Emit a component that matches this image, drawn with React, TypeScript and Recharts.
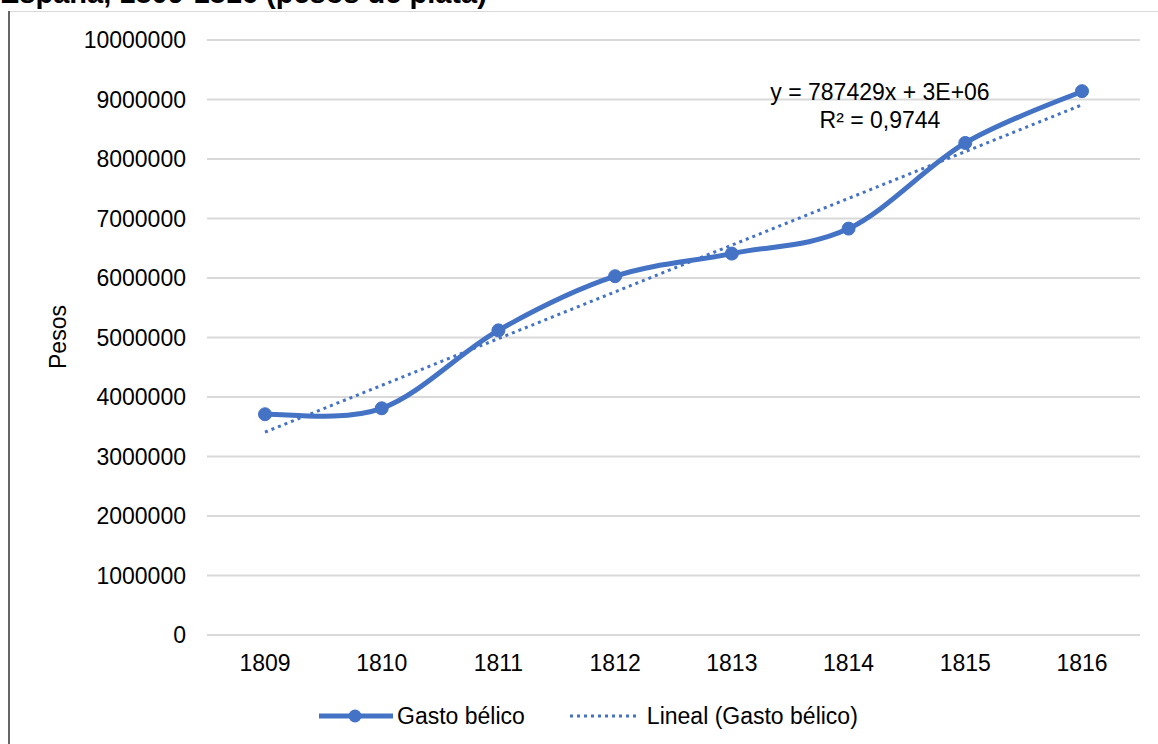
import { CartesianGrid, Line, LineChart, XAxis, YAxis } from "recharts";

const years = ["1809", "1810", "1811", "1812", "1813", "1814", "1815", "1816"];
const gastoBelico = [3710000, 3810000, 5120000, 6030000, 6410000, 6830000, 8270000, 9140000];
// trendline end points; the middle is left open and joined straight
const lineal = [3410000, null, null, null, null, null, null, 8910000];
const yTicks = [0, 1000000, 2000000, 3000000, 4000000, 5000000, 6000000, 7000000, 8000000, 9000000, 10000000];

const BLUE = "#4472C4";
const FONT = '"Liberation Sans", Arial, sans-serif';

const data = years.map((year, i) => ({ year, gasto: gastoBelico[i], lineal: lineal[i] }));

// Excel-style smoothed line: cubic bezier with control points at +/- (next - prev) / 6
function excelSmooth(context: any) {
  let pts: [number, number][] = [];
  return {
    areaStart() {},
    areaEnd() {},
    lineStart() {
      pts = [];
    },
    point(x: number, y: number) {
      pts.push([+x, +y]);
    },
    lineEnd() {
      if (pts.length === 0) return;
      context.moveTo(pts[0][0], pts[0][1]);
      for (let i = 0; i < pts.length - 1; i++) {
        const p0 = pts[i - 1] ?? pts[i];
        const p1 = pts[i];
        const p2 = pts[i + 1];
        const p3 = pts[i + 2] ?? p2;
        context.bezierCurveTo(
          p1[0] + (p2[0] - p0[0]) / 6,
          p1[1] + (p2[1] - p0[1]) / 6,
          p2[0] - (p3[0] - p1[0]) / 6,
          p2[1] - (p3[1] - p1[1]) / 6,
          p2[0],
          p2[1],
        );
      }
    },
  };
}

export default function App() {
  return (
    <div
      style={{
        position: "absolute",
        left: 0,
        top: 0,
        width: 1158,
        height: 744,
        overflow: "hidden",
        background: "#fff",
        fontFamily: FONT,
        color: "#000",
      }}
    >
      {/* title is cut by the top edge in the source */}
      <div
        style={{
          position: "absolute",
          left: 0,
          top: -21,
          fontSize: 29,
          lineHeight: "29px",
          fontWeight: 700,
          whiteSpace: "nowrap",
        }}
      >
        España, 1809-1816 (pesos de plata)
      </div>

      {/* chart box edges */}
      <div style={{ position: "absolute", left: 8, top: 11, width: 1150, height: 1, background: "#d9d9d9" }} />
      <div style={{ position: "absolute", left: 8, top: 11, width: 2, height: 733, background: "#666" }} />

      <div style={{ position: "absolute", left: 0, top: 0 }}>
        <LineChart width={1158} height={744} data={data} margin={{ top: 40, right: 18, bottom: 59, left: 0 }}>
          <CartesianGrid vertical={false} stroke="#d9d9d9" strokeWidth={2} />
          <XAxis
            dataKey="year"
            axisLine={false}
            tickLine={false}
            tickMargin={14}
            height={50}
            interval={0}
            padding={{ left: 58, right: 58 }}
            tick={{ fill: "#000", fontSize: 23, fontFamily: FONT }}
          />
          <YAxis
            domain={[0, 10000000]}
            ticks={yTicks}
            interval={0}
            axisLine={false}
            tickLine={false}
            tickMargin={15}
            width={207}
            tickFormatter={(v: number) => String(v)}
            tick={{ fill: "#000", fontSize: 23, fontFamily: FONT }}
          />
          <Line
            dataKey="lineal"
            type="linear"
            connectNulls
            stroke={BLUE}
            strokeWidth={3}
            strokeDasharray="3 4"
            dot={false}
            activeDot={false}
            isAnimationActive={false}
          />
          <Line
            dataKey="gasto"
            type={excelSmooth as any}
            stroke={BLUE}
            strokeWidth={5}
            dot={{ r: 6.5, fill: BLUE, stroke: BLUE, strokeWidth: 1 }}
            activeDot={false}
            isAnimationActive={false}
          />
        </LineChart>
      </div>

      <div
        style={{
          position: "absolute",
          left: 58,
          top: 337,
          fontSize: 23,
          whiteSpace: "nowrap",
          transform: "translate(-50%, -50%) rotate(-90deg)",
        }}
      >
        Pesos
      </div>

      <div
        style={{
          position: "absolute",
          left: 730,
          top: 78,
          width: 300,
          textAlign: "center",
          fontSize: 23,
          lineHeight: "28px",
        }}
      >
        <div>y = 787429x + 3E+06</div>
        <div>R² = 0,9744</div>
      </div>

      <div
        style={{
          position: "absolute",
          left: 318,
          top: 701,
          height: 30,
          display: "flex",
          alignItems: "center",
          fontSize: 23,
          whiteSpace: "nowrap",
        }}
      >
        <svg width={76} height={20}>
          <line x1={1} y1={10} x2={75} y2={10} stroke={BLUE} strokeWidth={5} />
          <circle cx={37} cy={10} r={6.5} fill={BLUE} />
        </svg>
        <span style={{ marginLeft: 3 }}>Gasto bélico</span>
        <svg width={72} height={20} style={{ marginLeft: 44 }}>
          <line x1={1} y1={10} x2={70} y2={10} stroke={BLUE} strokeWidth={3} strokeDasharray="3 4" />
        </svg>
        <span style={{ marginLeft: 6 }}>Lineal (Gasto bélico)</span>
      </div>
    </div>
  );
}
